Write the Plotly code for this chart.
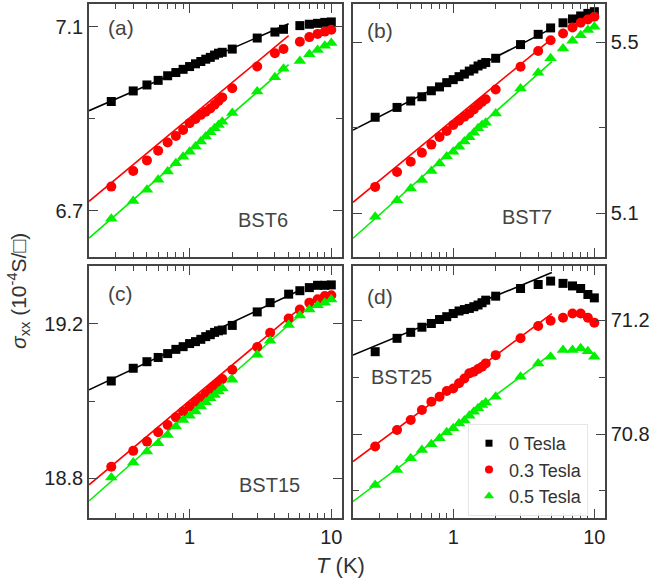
import plotly.graph_objects as go

# ---------------- data ----------------
T_a = [0.28, 0.4, 0.5, 0.6, 0.7, 0.8, 0.9, 1.0, 1.1, 1.2, 1.3, 1.4, 1.5, 1.6, 1.7, 2, 3, 4, 4.6, 6, 7, 8, 9, 10]
T_b = [0.28, 0.4, 0.5, 0.6, 0.7, 0.8, 0.9, 1.0, 1.1, 1.2, 1.3, 1.4, 1.5, 1.6, 1.7, 2, 3, 4, 4.9, 6, 7, 8, 9, 10]
T_c = [0.28, 0.4, 0.5, 0.6, 0.7, 0.8, 0.9, 1.0, 1.1, 1.2, 1.3, 1.4, 1.5, 1.6, 1.7, 2, 3, 3.7, 5, 6, 7, 8, 9, 10]
T_d = [0.28, 0.4, 0.5, 0.6, 0.7, 0.8, 0.9, 1.0, 1.1, 1.2, 1.3, 1.4, 1.5, 1.6, 1.7, 2, 3, 4, 4.9, 6, 7, 8, 9, 10]

# BST6
a_0T = [6.937, 6.960, 6.973, 6.983, 6.993, 7.000, 7.007, 7.013, 7.019, 7.024, 7.029, 7.033, 7.038, 7.042, 7.044, 7.051, 7.075, 7.088, 7.094, 7.102, 7.105, 7.107, 7.109, 7.110]
a_03T = [6.752, 6.786, 6.809, 6.830, 6.848, 6.862, 6.875, 6.890, 6.899, 6.908, 6.915, 6.922, 6.930, 6.938, 6.946, 6.966, 7.013, 7.042, 7.051, 7.067, 7.077, 7.084, 7.089, 7.093]
a_05T = [6.682, 6.721, 6.745, 6.767, 6.785, 6.803, 6.817, 6.828, 6.839, 6.850, 6.861, 6.870, 6.879, 6.886, 6.893, 6.912, 6.959, 6.990, 7.008, 7.025, 7.040, 7.049, 7.058, 7.064]
# BST7
b_0T = [5.325, 5.348, 5.363, 5.373, 5.387, 5.396, 5.406, 5.413, 5.420, 5.426, 5.433, 5.438, 5.445, 5.449, 5.453, 5.463, 5.495, 5.519, 5.534, 5.546, 5.555, 5.562, 5.568, 5.572]
b_03T = [5.162, 5.197, 5.221, 5.242, 5.261, 5.279, 5.293, 5.307, 5.317, 5.326, 5.334, 5.343, 5.353, 5.361, 5.367, 5.390, 5.443, 5.480, 5.505, 5.521, 5.535, 5.546, 5.554, 5.560]
b_05T = [5.092, 5.131, 5.158, 5.178, 5.199, 5.217, 5.233, 5.244, 5.256, 5.268, 5.278, 5.289, 5.299, 5.307, 5.312, 5.334, 5.392, 5.429, 5.463, 5.486, 5.504, 5.517, 5.529, 5.537]
# BST15
c_0T = [19.052, 19.085, 19.102, 19.113, 19.123, 19.134, 19.141, 19.149, 19.154, 19.160, 19.167, 19.172, 19.178, 19.182, 19.184, 19.196, 19.231, 19.255, 19.277, 19.286, 19.294, 19.300, 19.300, 19.301]
c_03T = [18.830, 18.871, 18.895, 18.919, 18.938, 18.958, 18.973, 18.986, 18.999, 19.007, 19.018, 19.029, 19.039, 19.048, 19.057, 19.081, 19.140, 19.177, 19.214, 19.237, 19.255, 19.264, 19.272, 19.274]
c_05T = [18.802, 18.841, 18.869, 18.891, 18.912, 18.934, 18.951, 18.962, 18.973, 18.986, 18.997, 19.007, 19.016, 19.025, 19.033, 19.055, 19.120, 19.156, 19.197, 19.222, 19.237, 19.248, 19.255, 19.263]
# BST25
d_0T = [71.089, 71.136, 71.157, 71.175, 71.188, 71.202, 71.212, 71.223, 71.232, 71.237, 71.241, 71.247, 71.253, 71.261, 71.270, 71.284, 71.311, 71.325, 71.337, 71.329, 71.320, 71.311, 71.290, 71.278]
d_03T = [70.756, 70.814, 70.849, 70.884, 70.913, 70.931, 70.951, 70.960, 70.978, 70.995, 71.013, 71.019, 71.028, 71.036, 71.048, 71.077, 71.136, 71.179, 71.198, 71.208, 71.223, 71.223, 71.208, 71.191]
d_05T = [70.621, 70.674, 70.715, 70.744, 70.764, 70.785, 70.806, 70.820, 70.837, 70.847, 70.864, 70.878, 70.890, 70.902, 70.911, 70.931, 71.001, 71.048, 71.071, 71.095, 71.095, 71.101, 71.091, 71.071]

# linear-in-log(T) fit lines: endpoints
fitT_a = [0.195, 5]
fit_a = {"0": [6.917, 7.106], "03": [6.720, 7.080], "05": [6.640, 7.017]}
fitT_b = [0.195, 5]
fit_b = {"0": [5.295, 5.533], "03": [5.126, 5.509], "05": [5.042, 5.455]}
fitT_c = [0.195, 6]
fit_c = {"0": [19.029, 19.287], "03": [18.783, 19.240], "05": [18.741, 19.223]}
fitT_d = [0.195, 5]
fit_d = {"0": [71.077, 71.367], "03": [70.703, 71.223], "05": [70.563, 71.083]}

series_names = ["0 Tesla", "0.3 Tesla", "0.5 Tesla"]
colors = ["#000000", "#ff0000", "#00f000"]
symbols = ["square", "circle", "triangle-up"]
msizes = [9, 10, 11]
legend_sizes = [7, 8, 9]

panel_labels = ["(a)", "(b)", "(c)", "(d)"]
sample_labels = ["BST6", "BST7", "BST15", "BST25"]

x_major = [1, 10]
x_major_text = ["1", "10"]
x_minor = [0.3, 0.4, 0.5, 0.6, 0.7, 0.8, 0.9, 2, 3, 4, 5, 6, 7, 8, 9]

y_ranges = [[6.599, 7.149], [4.998, 5.590], [18.697, 19.350], [70.505, 71.390]]
y_tick0 = [6.7, 5.1, 18.8, 70.8]

# ---------------- figure ----------------
FONT = "Arial, Liberation Sans, sans-serif"
fig = go.Figure()

panels = [
    (T_a, [a_0T, a_03T, a_05T], fitT_a, fit_a),
    (T_b, [b_0T, b_03T, b_05T], fitT_b, fit_b),
    (T_c, [c_0T, c_03T, c_05T], fitT_c, fit_c),
    (T_d, [d_0T, d_03T, d_05T], fitT_d, fit_d),
]
keys = ["0", "03", "05"]

for p, (T, ys, fT, fits) in enumerate(panels):
    xa = "x" if p == 0 else f"x{p+1}"
    ya = "y" if p == 0 else f"y{p+1}"
    for s in range(3):
        fig.add_trace(go.Scatter(
            x=fT, y=fits[keys[s]], mode="lines",
            line=dict(color=colors[s], width=1.6),
            xaxis=xa, yaxis=ya, showlegend=False, hoverinfo="skip"))
    for s in range(3):
        fig.add_trace(go.Scatter(
            x=T, y=ys[s], mode="markers", name=series_names[s],
            marker=dict(symbol=symbols[s], size=msizes[s], color=colors[s], line=dict(width=0)),
            xaxis=xa, yaxis=ya, showlegend=False))

# legend-only entries (smaller symbols, like the reference legend)
for s in range(3):
    fig.add_trace(go.Scatter(
        x=[None], y=[None], mode="markers", name=series_names[s],
        marker=dict(symbol=symbols[s], size=legend_sizes[s], color=colors[s], line=dict(width=0)),
        xaxis="x4", yaxis="y4", showlegend=True))

W, H = 659, 585
xdom = [[89 / W, 342 / W], [353 / W, 605 / W]]
ydom_top = [1 - 257 / H, 1 - 4 / H]
ydom_bot = [1 - 518 / H, 1 - 266 / H]

axis_line = dict(showline=True, linecolor="#444444", linewidth=1.5, mirror="ticks",
                 ticks="inside", tickcolor="#444444", tickwidth=1.3, showgrid=False, zeroline=False)

layout = dict(
    width=W, height=H, margin=dict(l=0, r=0, t=0, b=0),
    paper_bgcolor="white", plot_bgcolor="white",
    font=dict(family=FONT, size=20, color="#222222"),
)

for p in range(4):
    xname = "xaxis" if p == 0 else f"xaxis{p+1}"
    yname = "yaxis" if p == 0 else f"yaxis{p+1}"
    col = p % 2
    row = p // 2
    xa = dict(axis_line, type="log", range=[-0.71, 1.0755], domain=xdom[col],
              anchor="y" if p == 0 else f"y{p+1}",
              tickmode="array", tickvals=x_major, ticktext=x_major_text, ticklen=9,
              showticklabels=(row == 1),
              tickfont=dict(size=20, color="#222222"),
              minor=dict(tickmode="array", tickvals=x_minor, ticks="inside", ticklen=5,
                         tickcolor="#444444", tickwidth=1.3, showgrid=False))
    ya = dict(axis_line, range=y_ranges[p], domain=ydom_top if row == 0 else ydom_bot,
              anchor="x" if p == 0 else f"x{p+1}",
              side="left" if col == 0 else "right",
              tick0=y_tick0[p], dtick=0.4, ticklen=9, tickformat=".1f",
              tickfont=dict(size=20, color="#222222"),
              minor=dict(dtick=0.2, tick0=y_tick0[p], ticks="inside", ticklen=6,
                         tickcolor="#444444", tickwidth=1.3, showgrid=False))
    layout[xname] = xa
    layout[yname] = ya

fig.update_layout(**layout)

# panel annotations
lab_pos = [(0.067, 0.909), (0.048, 0.897), (0.067, 0.889), (0.048, 0.877)]
samp_pos = [(0.688, 0.146), (0.690, 0.158), (0.715, 0.131), (0.194, 0.560)]
for p in range(4):
    xr = "x domain" if p == 0 else f"x{p+1} domain"
    yr = "y domain" if p == 0 else f"y{p+1} domain"
    fig.add_annotation(text=panel_labels[p], x=lab_pos[p][0], y=lab_pos[p][1], xref=xr, yref=yr,
                       xanchor="left", yanchor="middle", showarrow=False,
                       font=dict(family=FONT, size=21, color="#444444"))
    fig.add_annotation(text=sample_labels[p], x=samp_pos[p][0], y=samp_pos[p][1], xref=xr, yref=yr,
                       xanchor="center", yanchor="middle", showarrow=False,
                       font=dict(family=FONT, size=20, color="#444444"))

# axis titles
fig.add_annotation(text="<i>T</i> (K)", x=340 / W, y=1 - 565 / H, xref="paper", yref="paper",
                   xanchor="center", yanchor="middle", showarrow=False,
                   font=dict(family=FONT, size=22, color="#333333"))
fig.add_annotation(text="<i>σ</i><sub>xx</sub> (10<sup>-4</sup>S/□)", x=18 / W, y=1 - 291 / H,
                   xref="paper", yref="paper", textangle=-90,
                   xanchor="center", yanchor="middle", showarrow=False,
                   font=dict(family=FONT, size=21, color="#333333"))

fig.update_layout(legend=dict(x=468 / W, y=1 - 424 / H, xanchor="left", yanchor="top",
                              bgcolor="rgba(255,255,255,0.85)", bordercolor="#e6e6e6", borderwidth=1,
                              font=dict(family=FONT, size=18, color="#333333"),
                              itemsizing="trace", tracegroupgap=2))

fig.write_html("out.html", config={"displayModeBar": False},
               post_script="document.body.style.margin='0';document.body.style.padding='0';")
